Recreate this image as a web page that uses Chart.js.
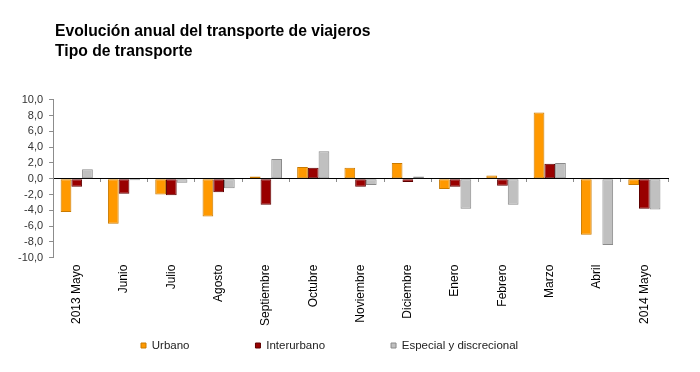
<!DOCTYPE html>
<html>
<head>
<meta charset="utf-8">
<script src="https://cdn.jsdelivr.net/npm/chart.js@4/dist/chart.umd.min.js"></script>
<style>
  html, body { margin: 0; padding: 0; background: #ffffff; }
  #wrap { width: 700px; height: 372px; }
</style>
</head>
<body>
<div id="wrap"><canvas id="c" width="700" height="372"></canvas></div>
<script>
const titleLines = ['Evolución anual del transporte de viajeros', 'Tipo de transporte'];
const categories = ['2013 Mayo', 'Junio', 'Julio', 'Agosto', 'Septiembre', 'Octubre', 'Noviembre', 'Diciembre', 'Enero', 'Febrero', 'Marzo', 'Abril', '2014 Mayo'];
const seriesNames = ['Urbano', 'Interurbano', 'Especial y discrecional'];
const urbano      = [-4.2, -5.7, -2.0, -4.8,  0.3, 1.5,  1.4,  2.0, -1.3,  0.4, 8.4, -7.1, -0.8];
const interurbano = [-1.0, -1.9, -2.1, -1.7, -3.3, 1.4, -1.0, -0.4, -1.0, -0.9, 1.9, -0.1, -3.8];
const especial    = [ 1.2, -0.2, -0.5, -1.2,  2.5, 3.5, -0.8,  0.3, -3.8, -3.3, 2.0, -8.4, -3.9];
const yTicks = [-10, -8, -6, -4, -2, 0, 2, 4, 6, 8, 10];

const FONT = '"Liberation Sans", Arial, Helvetica, sans-serif';

const LEGEND_PAD = 66;
const LEGEND_FONT = 11.5;
const LEGEND_H = 39;
const shiftPlugin = {
  id: 'shiftBlocks',
  afterInit(chart) {
    const lg = chart.legend;
    if (lg && !lg._capped) {
      const f = lg.fit;
      lg.fit = function () { f.call(this); this.height = Math.min(this.height, LEGEND_H); };
      lg._capped = true;
    }
  },
  afterLayout(chart) {
    const t = chart.titleBlock;
    if (t) {
      const w = t.right - t.left;
      t.left = 55;
      t.right = 55 + w;
    }
    const lg = chart.legend;
    if (lg && lg.lineWidths) {
      const startX = (lg.left + LEGEND_PAD + lg.right - lg.lineWidths[0]) / 2;
      const dx = 141 - startX;
      const dy = 345.5 - (lg.top + LEGEND_PAD + LEGEND_FONT / 2);
      lg.left += dx; lg.right += dx;
      lg.top += dy;
      lg.bottom = chart.height;
    }
  }
};

new Chart(document.getElementById('c'), {
  type: 'bar',
  data: {
    labels: categories,
    datasets: [
      { label: seriesNames[0], data: urbano, backgroundColor: '#FF9900', borderColor: '#C97A00', borderWidth: 1, borderSkipped: false },
      { label: seriesNames[1], data: interurbano, backgroundColor: '#990000', borderColor: '#5E0000', borderWidth: 1, borderSkipped: false },
      { label: seriesNames[2], data: especial, backgroundColor: '#C0C0C0', borderColor: '#8A8A8A', borderWidth: 1, borderSkipped: false }
    ]
  },
  options: {
    responsive: false,
    devicePixelRatio: 1,
    animation: false,
    layout: { padding: { left: 12, right: 32, top: 0, bottom: 0 } },
    datasets: { bar: { categoryPercentage: 0.68, barPercentage: 1.0 } },
    scales: {
      x: {
        type: 'category',
        position: 'bottom',
        offset: true,
        grid: { display: false, drawTicks: false, tickLength: 0 },
        border: { display: false },
        ticks: {
          autoSkip: false, maxRotation: 90, minRotation: 90, padding: 7,
          color: '#000000', font: { family: FONT, size: 12 }
        }
      },
      x0: {
        type: 'category',
        position: { y: 0 },
        offset: true,
        grid: { drawOnChartArea: false, offset: true, tickLength: 3, tickColor: '#8C8C8C', lineWidth: 1 },
        border: { display: true, color: '#000000', width: 1 },
        ticks: { display: false }
      },
      y: {
        min: -10, max: 10,
        afterBuildTicks(scale) { scale.ticks = yTicks.map(v => ({ value: v })); },
        grid: { drawOnChartArea: false, tickLength: 4, tickColor: '#8C8C8C' },
        border: { display: true, color: '#8C8C8C', width: 1 },
        ticks: {
          autoSkip: false,
          padding: 6, color: '#333333', font: { family: FONT, size: 11 },
          callback: (v) => Number(v).toFixed(1).replace('.', ',')
        }
      }
    },
    plugins: {
      title: {
        display: true, text: titleLines, align: 'start', color: '#000000',
        font: { family: FONT, size: 15.7, weight: 'bold', lineHeight: 1.27 },
        padding: { top: 22, bottom: 38 }
      },
      legend: {
        display: true, position: 'bottom', align: 'center',
        labels: {
          boxWidth: 5, boxHeight: 5, padding: LEGEND_PAD, color: '#222222',
          font: { family: FONT, size: LEGEND_FONT }
        }
      },
      tooltip: { enabled: false }
    }
  },
  plugins: [shiftPlugin]
});
</script>
</body>
</html>
